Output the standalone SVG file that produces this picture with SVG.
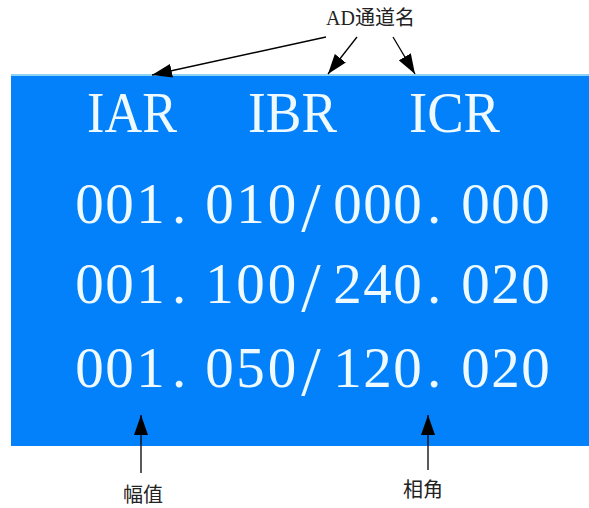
<svg xmlns="http://www.w3.org/2000/svg" width="589" height="508" viewBox="0 0 589 508">
<style>
.lcd{font-family:"Liberation Serif",serif;fill:#eefaff;}
.num{font-size:57px;text-anchor:middle;}
.sl{font-size:70px;}
.lbl{font-family:"Liberation Serif","Noto Sans CJK SC",serif;font-size:20px;fill:#222;}
.conn{stroke:#000;stroke-width:1.3;fill:none;marker-end:url(#ah);}
</style>
<defs>
<marker id="ah" viewBox="0 0 20 14" refX="20" refY="7" markerWidth="20" markerHeight="14" markerUnits="userSpaceOnUse" orient="auto">
<path d="M0,0 L20,7 L0,14 Z" fill="#000"/>
</marker>
</defs>
<g id="screen">
<rect x="11" y="74" width="578" height="372" fill="#0381fb"/>
<rect x="11" y="74" width="578" height="2" fill="#8fd3f3"/>
<text class="lcd" x="87" y="132" font-size="58" textLength="90" lengthAdjust="spacingAndGlyphs">IAR</text>
<text class="lcd" x="248" y="132" font-size="58" textLength="89" lengthAdjust="spacingAndGlyphs">IBR</text>
<text class="lcd" x="409" y="132" font-size="58" textLength="91" lengthAdjust="spacingAndGlyphs">ICR</text>
<text class="lcd num" x="89.5 119.5 150.5 179 219.5 250.5 282 311 347.5 377.5 407.5 434 475.5 505.5 535.5" y="223">001.010<tspan class="sl" dy="8">/</tspan><tspan dy="-8">000.000</tspan></text>
<text class="lcd num" x="89.5 119.5 150.5 179 219.5 250.5 282 311 347.5 377.5 407.5 434 475.5 505.5 535.5" y="303">001.100<tspan class="sl" dy="8">/</tspan><tspan dy="-8">240.020</tspan></text>
<text class="lcd num" x="89.5 119.5 150.5 179 219.5 250.5 282 311 347.5 377.5 407.5 434 475.5 505.5 535.5" y="387">001.050<tspan class="sl" dy="8">/</tspan><tspan dy="-8">120.020</tspan></text>
</g>
<g id="label-ad"><text class="lbl" x="326" y="25">AD通道名</text></g>
<g id="label-amp"><text class="lbl" x="123" y="502">幅值</text></g>
<g id="label-phase"><text class="lbl" x="403" y="497">相角</text></g>
<g id="connectors">
<line class="conn" x1="326" y1="37" x2="152" y2="75"/>
<line class="conn" x1="357" y1="37" x2="328" y2="74"/>
<line class="conn" x1="393" y1="37" x2="415" y2="74"/>
<line class="conn" x1="141" y1="473" x2="141" y2="415"/>
<line class="conn" x1="428" y1="470" x2="428" y2="415"/>
</g>
</svg>
